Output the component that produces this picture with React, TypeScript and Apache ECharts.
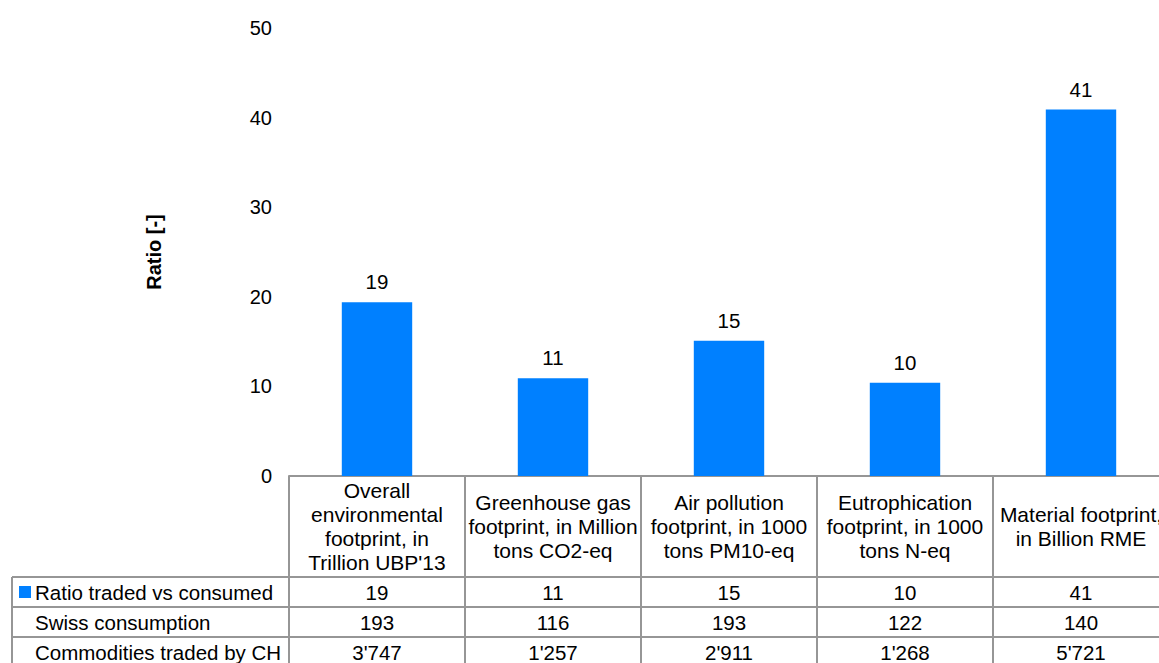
import React, { useEffect, useRef } from "react";
import * as echarts from "echarts";

const categories = [
  "Overall\nenvironmental\nfootprint, in\nTrillion UBP'13",
  "Greenhouse gas\nfootprint, in Million\ntons CO2-eq",
  "Air pollution\nfootprint, in 1000\ntons PM10-eq",
  "Eutrophication\nfootprint, in 1000\ntons N-eq",
  "Material footprint,\nin Billion RME",
];
const ratioValues = [19.4, 10.9, 15.1, 10.4, 40.9];
const swissConsumption = [193, 116, 193, 122, 140];
const commoditiesTraded = [3747, 1257, 2911, 1268, 5721];
const rowLabels = ["Ratio traded vs consumed", "Swiss consumption", "Commodities traded by CH"];
const yTicks = { min: 0, max: 50, interval: 10 };
const yAxisName = "Ratio [-]";

const FONT = "Liberation Sans, Arial, sans-serif";
const FS = 20;
const FS_TABLE = 20.5;
const FS_HEAD = 21;
const BAR = "#0080ff";
const LINE = "#969696";

const fmtThousands = (v: number) => String(v).replace(/\B(?=(\d{3})+(?!\d))/g, "'");

export default function App() {
  const ref = useRef<HTMLDivElement>(null);
  useEffect(() => {
    if (!ref.current) return;
    const chart = echarts.init(ref.current, undefined, { renderer: "svg" });
    chart.setOption({
      animation: false,
      textStyle: { fontFamily: FONT },
      grid: {
        left: 289,
        width: 880,
        top: 28,
        bottom: 187,
        containLabel: false,
        outerBoundsMode: "none",
      },
      xAxis: {
        type: "category",
        data: categories,
        axisLine: { show: true, lineStyle: { color: LINE, width: 2 } },
        axisTick: { show: false },
        axisLabel: {
          interval: 0,
          color: "#000",
          fontSize: FS_HEAD,
          fontFamily: FONT,
          lineHeight: 24,
          margin: 50,
          verticalAlign: "middle",
          align: "center",
        },
      },
      yAxis: {
        type: "value",
        min: yTicks.min,
        max: yTicks.max,
        interval: yTicks.interval,
        name: yAxisName,
        nameLocation: "middle",
        nameGap: 125,
        nameTextStyle: { fontSize: FS, fontWeight: "bold", color: "#000", fontFamily: FONT },
        axisLine: { show: false },
        axisTick: { show: false },
        splitLine: { show: false },
        axisLabel: { color: "#000", fontSize: FS, fontFamily: FONT, margin: 17 },
      },
      series: [
        {
          type: "bar",
          data: ratioValues,
          barWidth: "40%",
          itemStyle: { color: BAR },
          label: {
            show: true,
            position: "top",
            distance: 10,
            color: "#000",
            fontSize: FS_TABLE,
            fontFamily: FONT,
            formatter: (p: any) => String(Math.round(p.value)),
          },
        },
      ],
    });

    // Build data table beneath the axis using the chart's own scales
    const c0 = chart.convertToPixel({ xAxisIndex: 0 }, 0) as number;
    const c1 = chart.convertToPixel({ xAxisIndex: 0 }, 1) as number;
    const cw = c1 - c0;
    const y0 = chart.convertToPixel({ yAxisIndex: 0 }, 0) as number;
    const gridLeft = c0 - cw / 2;
    const gridRight = gridLeft + cw * categories.length;
    const headerH = 101;
    const rowH = 30;
    const tableLeft = 12;
    const rowsTop = y0 + headerH;
    const nRows = rowLabels.length;
    const bottom = rowsTop + rowH * (nRows + 1);

    const g: any[] = [];
    const ln = (x1: number, y1: number, x2: number, y2: number) =>
      g.push({
        type: "line",
        shape: { x1, y1, x2, y2 },
        style: { stroke: LINE, lineWidth: 2 },
        silent: true,
      });
    for (let i = 0; i <= categories.length; i++) {
      const x = gridLeft + cw * i;
      ln(x, y0, x, bottom);
    }
    ln(tableLeft, rowsTop, tableLeft, bottom);
    for (let r = 0; r <= nRows; r++) {
      const y = rowsTop + rowH * r;
      ln(tableLeft, y, gridRight, y);
    }
    const rows: string[][] = [
      ratioValues.map((v) => String(Math.round(v))),
      swissConsumption.map((v) => fmtThousands(v)),
      commoditiesTraded.map((v) => fmtThousands(v)),
    ];
    rows.forEach((vals, r) => {
      const cy = rowsTop + rowH * r + rowH / 2;
      g.push({
        type: "text",
        style: {
          text: rowLabels[r],
          x: 35,
          y: cy,
          align: "left",
          verticalAlign: "middle",
          fontSize: FS_TABLE,
          fontFamily: FONT,
          fill: "#000",
        },
      });
      vals.forEach((t, i) => {
        g.push({
          type: "text",
          style: {
            text: t,
            x: c0 + cw * i,
            y: cy,
            align: "center",
            verticalAlign: "middle",
            fontSize: FS_TABLE,
            fontFamily: FONT,
            fill: "#000",
          },
        });
      });
    });
    g.push({
      type: "rect",
      shape: { x: 19, y: rowsTop + rowH / 2 - 6, width: 12, height: 12 },
      style: { fill: BAR },
    });
    chart.setOption({ graphic: g });

    return () => chart.dispose();
  }, []);
  return (
    <div
      ref={ref}
      style={{ position: "fixed", left: 0, top: 0, width: 1159, height: 663, background: "#fff" }}
    />
  );
}
